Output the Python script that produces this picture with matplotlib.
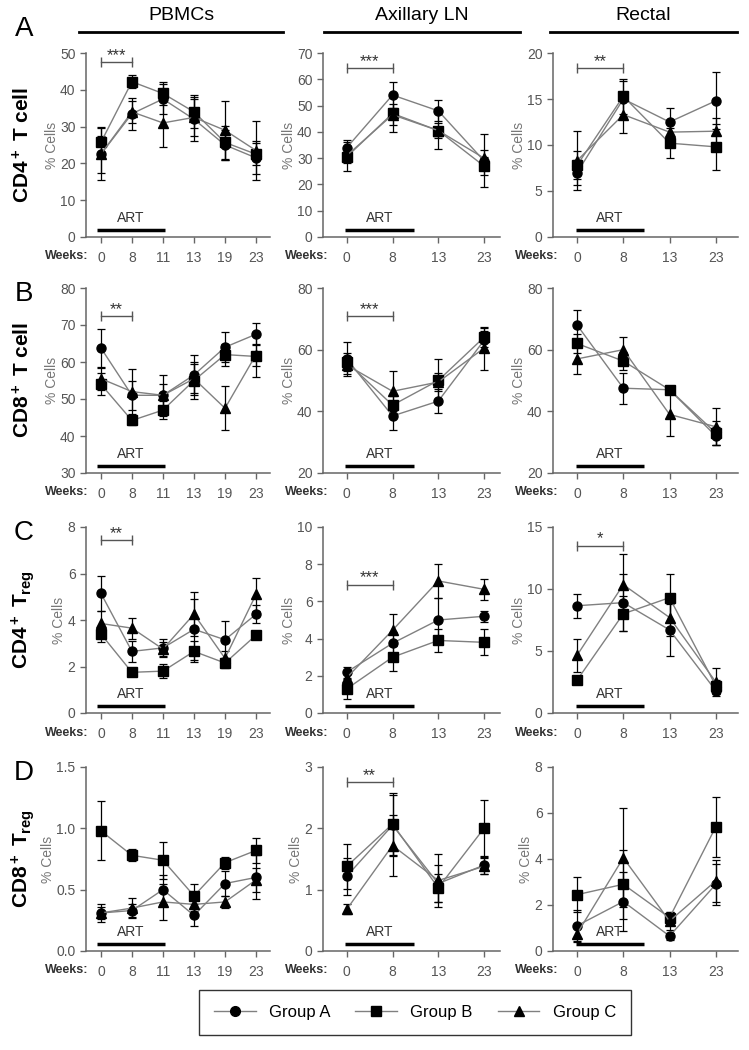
import numpy as np
import matplotlib.pyplot as plt
import matplotlib.transforms as mtransforms
from matplotlib.lines import Line2D

plt.rcParams['font.family'] = ['Liberation Sans', 'DejaVu Sans']
plt.rcParams['mathtext.fontset'] = 'custom'
plt.rcParams['mathtext.rm'] = 'Liberation Sans:bold'
plt.rcParams['mathtext.it'] = 'Liberation Sans:bold'
plt.rcParams['mathtext.bf'] = 'Liberation Sans:bold'

groups = ['Group A', 'Group B', 'Group C']
markers = ['o', 's', '^']
tissues = ['PBMCs', 'Axillary LN', 'Rectal']
row_letters = ['A', 'B', 'C', 'D']
cell_types = ['CD4$^+$ T cell', 'CD8$^+$ T cell', 'CD4$^+$ T$_{reg}$', 'CD8$^+$ T$_{reg}$']
weeks_pbmc = ['0', '8', '11', '13', '19', '23']
weeks_tissue = ['0', '8', '13', '23']

# mean values, one list per group (A, B, C)
cd4_pbmc = [[22.5, 33.5, 37.5, 32, 25, 21.5], [25.7, 42.2, 39, 34, 25.7, 22.5], [22.5, 34, 31, 32.5, 29, 23.5]]
cd4_pbmc_se = [[7, 4.3, 4, 6, 4, 4.5], [4.3, 1.8, 3, 4.5, 4.5, 3], [5, 3, 6.5, 5, 8, 8]]
cd4_ln = [[34, 54, 48, 29], [30.5, 47, 40.5, 27], [31, 46.5, 40.5, 30]]
cd4_ln_se = [[3, 5, 4, 10], [5.5, 7, 7, 3.5], [3, 4, 3, 3]]
cd4_rec = [[7, 15, 12.5, 14.8], [7.8, 15.3, 10.2, 9.8], [8.3, 13.3, 11.4, 11.5]]
cd4_rec_se = [[1.4, 2, 1.5, 3.1], [1.5, 1.9, 1.6, 2.5], [3.2, 2, 1, 1.4]]

cd8_pbmc = [[63.8, 51, 51, 56.5, 64, 67.5], [54, 44.2, 47, 55, 62, 61.5], [55.5, 52, 51, 55.5, 47.5, 62]]
cd8_pbmc_se = [[5.2, 4, 5.5, 5.5, 4, 3], [3, 1.2, 2.5, 5, 3, 5.5], [3, 6, 3, 4, 6, 3]]
cd8_ln = [[57, 38.5, 43.3, 63], [56, 42, 50, 64], [55, 46.5, 49.5, 60.5]]
cd8_ln_se = [[5.5, 4.5, 3.8, 3], [3, 3, 7, 3], [3, 6.5, 3, 7]]
cd8_rec = [[68, 47.5, 47, 32], [62, 56.3, 47, 33], [57, 60, 39, 35]]
cd8_rec_se = [[5, 5, 1, 3], [3, 3, 1, 4], [5, 4, 7, 6]]

cd4treg_pbmc = [[5.15, 2.65, 2.8, 3.6, 3.15, 4.25], [3.4, 1.75, 1.8, 2.65, 2.15, 3.35], [3.85, 3.65, 2.75, 4.25, 2.35, 5.1]]
cd4treg_pbmc_se = [[0.75, 0.45, 0.4, 1.3, 0.8, 0.4], [0.35, 0.15, 0.3, 0.45, 0.2, 0.15], [0.55, 0.45, 0.3, 0.95, 0.3, 0.7]]
cd4treg_ln = [[2.2, 3.75, 5.0, 5.2], [1.3, 3.0, 3.9, 3.8], [1.9, 4.45, 7.1, 6.65]]
cd4treg_ln_se = [[0.3, 0.6, 1.2, 0.3], [0.55, 0.75, 0.6, 0.7], [0.3, 0.85, 0.9, 0.55]]
cd4treg_rec = [[8.65, 8.9, 6.7, 1.8], [2.65, 8.0, 9.3, 2.2], [4.65, 10.35, 7.7, 2.5]]
cd4treg_rec_se = [[0.95, 2.3, 2.1, 0.3], [0.3, 1.4, 1.9, 0.5], [1.35, 2.45, 1.5, 1.1]]

cd8treg_pbmc = [[0.31, 0.33, 0.5, 0.29, 0.55, 0.6], [0.98, 0.78, 0.74, 0.45, 0.72, 0.82], [0.31, 0.35, 0.4, 0.38, 0.4, 0.58]]
cd8treg_pbmc_se = [[0.07, 0.05, 0.12, 0.09, 0.1, 0.18], [0.24, 0.05, 0.15, 0.1, 0.05, 0.1], [0.05, 0.08, 0.15, 0.05, 0.05, 0.1]]
cd8treg_ln = [[1.22, 2.05, 1.1, 1.4], [1.38, 2.07, 1.03, 2.0], [0.68, 1.72, 1.15, 1.38]]
cd8treg_ln_se = [[0.3, 0.5, 0.3, 0.15], [0.37, 0.5, 0.23, 0.47], [0.08, 0.5, 0.43, 0.13]]
cd8treg_rec = [[1.1, 2.15, 0.65, 2.9], [2.45, 2.9, 1.45, 5.4], [0.75, 4.05, 1.3, 3.05]]
cd8treg_rec_se = [[0.7, 1.3, 0.15, 0.9], [0.75, 1.5, 0.25, 1.3], [0.3, 2.15, 0.4, 0.9]]

means = [[cd4_pbmc, cd4_ln, cd4_rec],
         [cd8_pbmc, cd8_ln, cd8_rec],
         [cd4treg_pbmc, cd4treg_ln, cd4treg_rec],
         [cd8treg_pbmc, cd8treg_ln, cd8treg_rec]]
errs = [[cd4_pbmc_se, cd4_ln_se, cd4_rec_se],
        [cd8_pbmc_se, cd8_ln_se, cd8_rec_se],
        [cd4treg_pbmc_se, cd4treg_ln_se, cd4treg_rec_se],
        [cd8treg_pbmc_se, cd8treg_ln_se, cd8treg_rec_se]]

ylims = [[(0, 50, 10), (0, 70, 10), (0, 20, 5)],
         [(30, 80, 10), (20, 80, 20), (20, 80, 20)],
         [(0, 8, 2), (0, 10, 2), (0, 15, 5)],
         [(0, 1.5, 0.5), (0, 3, 1), (0, 8, 2)]]
stars = [['***', '***', '**'], ['**', '***', ''], ['**', '***', '*'], ['', '**', '']]
star_y = [[0.95, 0.92, 0.92], [0.85, 0.85, 0], [0.93, 0.69, 0.90], [0, 0.92, 0]]

W, H = 749, 1050
fig = plt.figure(figsize=(W / 100, H / 100), dpi=100)

cols = [(86, 270), (323, 500), (553, 738)]
rows = [(53, 237), (288, 473), (527, 713), (767, 951)]
xlims = [(-0.48, 5.45), (-0.52, 3.35), (-0.52, 3.48)]
art_end = [2.07, 1.46, 1.45]
art_start = [-0.14, -0.03, -0.02]

axis_grey = '#666666'
text_grey = '#555555'

for r in range(4):
    for c in range(3):
        x0, x1 = cols[c]
        y0, y1 = rows[r]
        ax = fig.add_axes([x0 / W, 1 - y1 / H, (x1 - x0) / W, (y1 - y0) / H])
        wk = weeks_pbmc if c == 0 else weeks_tissue
        x = np.arange(len(wk))
        for g in range(3):
            ax.errorbar(x, means[r][c][g], yerr=errs[r][c][g], color='#808080', lw=1,
                        marker=markers[g], mfc='k', mec='k', ms=6.5,
                        ecolor='k', elinewidth=0.9, capsize=3, capthick=0.9, zorder=3)
        lo, hi, step = ylims[r][c]
        ax.set_ylim(lo, hi)
        ax.set_yticks(np.arange(lo, hi + step / 2, step))
        if r == 3 and c == 0:
            ax.set_yticklabels(['0.0', '0.5', '1.0', '1.5'])
        ax.set_xlim(*xlims[c])
        ax.set_xticks(x)
        ax.set_xticklabels(wk)
        for s in ['top', 'right']:
            ax.spines[s].set_visible(False)
        for s in ['left', 'bottom']:
            ax.spines[s].set_color(axis_grey)
            ax.spines[s].set_linewidth(1.1)
        ax.tick_params(axis='both', colors=axis_grey, labelcolor=text_grey,
                       labelsize=10, length=4, width=1)
        ax.tick_params(axis='x', pad=6)
        ax.set_ylabel('% Cells', color='#777777', fontsize=10, labelpad=1)

        trans = mtransforms.blended_transform_factory(ax.transData, ax.transAxes)
        # ART bar
        ax.plot([art_start[c], art_end[c]], [0.04, 0.04], color='k', lw=2.5,
                transform=trans, solid_capstyle='butt', clip_on=False)
        ax.text((art_start[c] + art_end[c]) / 2, 0.065, 'ART', transform=trans,
                ha='center', va='bottom', fontsize=10, color='#333333')
        # Weeks label
        ax.text(-0.4, -0.105, 'Weeks:', transform=trans, ha='right', va='center',
                fontsize=9, fontweight='bold', color='#333333', clip_on=False)
        # significance bracket
        if stars[r][c]:
            yb = star_y[r][c]
            ax.plot([0, 1], [yb, yb], color='#555555', lw=1, transform=trans,
                    clip_on=False)
            ax.plot([0, 1], [yb, yb], ls='none', marker='|', ms=7, mew=1,
                    color='#555555', transform=trans, clip_on=False)
            ax.text(0.5, yb - 0.005, stars[r][c], transform=trans, ha='center',
                    va='bottom', fontsize=12, color='#333333')

    # row labels and letters
    y0, y1 = rows[r]
    fig.text(23 / W, 1 - (y0 + y1) / 2 / H, cell_types[r], rotation=90,
             ha='center', va='center', fontsize=15, fontweight='bold')
    letter_y = 29 if r == 0 else y0 + 6
    fig.text(24 / W, 1 - letter_y / H, row_letters[r], ha='center', va='center',
             fontsize=20)

# column headers
header_lines = [(79, 283), (324, 520), (550, 737)]
for c in range(3):
    hx0, hx1 = header_lines[c]
    fig.add_artist(Line2D([hx0 / W, hx1 / W], [1 - 32 / H, 1 - 32 / H],
                          color='k', lw=2))
    fig.text((hx0 + hx1) / 2 / W, 1 - 15 / H, tissues[c], ha='center',
             va='center', fontsize=14)

handles = [Line2D([], [], color='#808080', lw=1, marker=m, mfc='k', mec='k',
                  ms=7) for m in markers]
fig.legend(handles, groups, loc='center', bbox_to_anchor=(415 / W, 1 - 1012 / H),
           ncol=3, frameon=True, fancybox=False, edgecolor='k', fontsize=12,
           handlelength=2.5, columnspacing=1.5, borderpad=0.9)

fig.savefig('out.png', dpi=100)
